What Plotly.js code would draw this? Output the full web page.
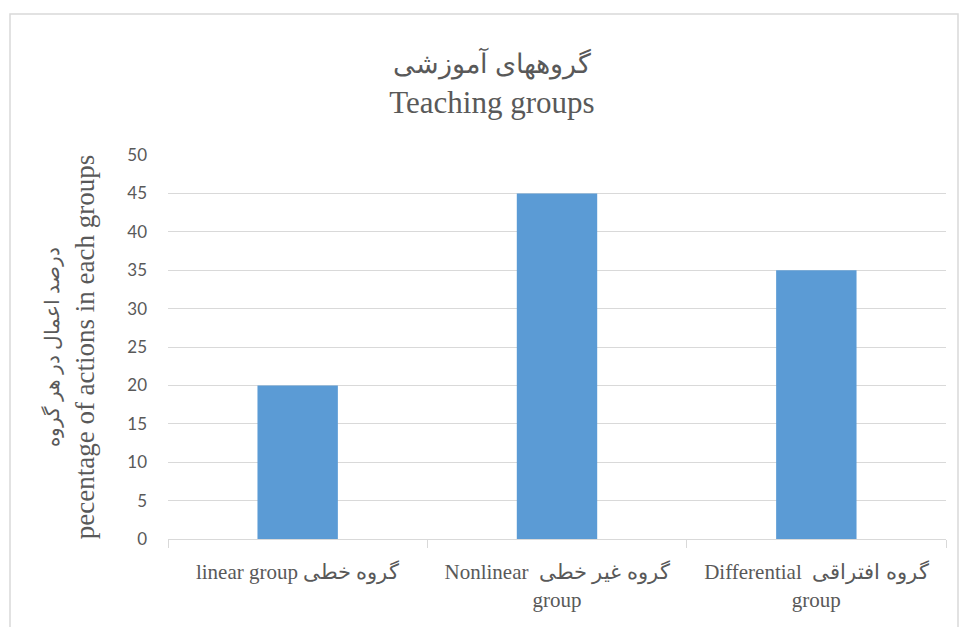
<!DOCTYPE html>
<html><head><meta charset="utf-8">
<script src="https://cdn.plot.ly/plotly-3.0.1.min.js"></script>
<style>html,body{margin:0;padding:0;background:#fff}</style>
</head><body>
<div id="chart" style="width:959px;height:627px"></div>
<script>
const categories = ["linear group گروه خطی", "Nonlinear  گروه غیر خطی<br>group", "Differential  گروه افتراقی<br>group"];
const values = [20, 45, 35];
const yTicks = [0, 5, 10, 15, 20, 25, 30, 35, 40, 45, 50];
const titleText = "<span style=\"font-size:27px\">گروههای آموزشی</span><br>Teaching groups";
const yTitleText = "<span style=\"font-size:20px\">درصد اعمال در هر گروه</span><br>pecentage of actions in each groups";

const trace = {
  type: "bar",
  x: categories,
  y: values,
  marker: {color: "#5b9bd5"},
  hoverinfo: "none"
};

const layout = {
  width: 959, height: 627,
  margin: {l: 168, r: 13, t: 155, b: 88},
  paper_bgcolor: "#fff", plot_bgcolor: "#fff",
  bargap: 0.69,
  showlegend: false,
  title: {
    text: titleText,
    font: {family: "Liberation Serif, serif", size: 31, color: "#595959"},
    x: 0.513, xanchor: "center",
    y: 0.884, yanchor: "top"
  },
  xaxis: {
    type: "category",
    showline: true, linecolor: "#d9d9d9", linewidth: 1,
    ticks: "outside", tickson: "boundaries", ticklen: 8, tickcolor: "#d9d9d9",
    tickfont: {family: "Liberation Serif, serif", size: 21, color: "#595959"},
    ticklabelstandoff: 14,
    showgrid: false
  },
  yaxis: {
    range: [0, 50],
    tickvals: yTicks,
    ticktext: yTicks.map(String),
    showgrid: true, gridcolor: "#d9d9d9", gridwidth: 1,
    zeroline: false, showline: false,
    ticks: "",
    ticklabelstandoff: 20,
    tickfont: {family: "Lato, Open Sans, sans-serif", size: 17, color: "#595959"},
    title: {
      text: yTitleText,
      font: {family: "Liberation Serif, serif", size: 27, color: "#595959"},
      standoff: 24
    }
  },
  shapes: [{
    type: "rect", xref: "paper", yref: "paper",
    x0: (10 - 168) / 778, x1: (958 - 168) / 778,
    y0: -0.4, y1: (539 - 14) / 384,
    line: {color: "#d9d9d9", width: 1.5}, fillcolor: "rgba(0,0,0,0)", layer: "below"
  }]
};

Plotly.newPlot("chart", [trace], layout, {displayModeBar: false, staticPlot: true});
</script>
</body></html>
